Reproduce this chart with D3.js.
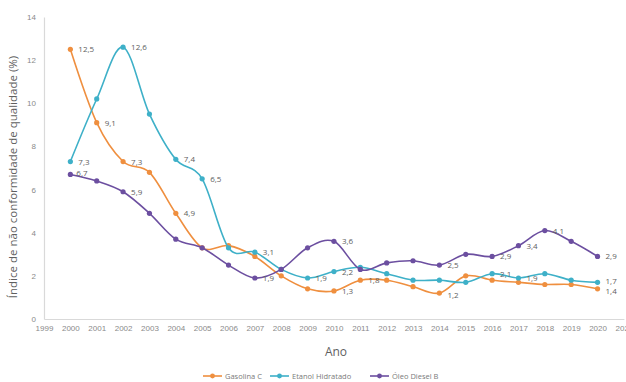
<!DOCTYPE html>
<html>
<head>
<meta charset="utf-8">
<script src="https://cdn.jsdelivr.net/npm/d3@7"></script>
<style>
  body { margin: 0; background: #fff; }
  svg { display: block; font-family: 'Open Sans', sans-serif; }
</style>
</head>
<body>
<div id="chart"></div>
<script>
const years = d3.range(2000, 2021);
const gasolina = [12.5, 9.1, 7.3, 6.8, 4.9, 3.3, 3.4, 2.9, 2.0, 1.4, 1.3, 1.8, 1.8, 1.5, 1.2, 2.0, 1.8, 1.7, 1.6, 1.6, 1.4];
const etanol = [7.3, 10.2, 12.6, 9.5, 7.4, 6.5, 3.3, 3.1, 2.3, 1.9, 2.2, 2.4, 2.1, 1.8, 1.8, 1.7, 2.1, 1.9, 2.1, 1.8, 1.7];
const diesel = [6.7, 6.4, 5.9, 4.9, 3.7, 3.3, 2.5, 1.9, 2.3, 3.3, 3.6, 2.3, 2.6, 2.7, 2.5, 3.0, 2.9, 3.4, 4.1, 3.6, 2.9];
const seriesNames = ['Gasolina C', 'Etanol Hidratado', 'Óleo Diesel B'];
// years that carry a data label
const gasolinaLabels = [2000, 2001, 2002, 2004, 2010, 2011, 2014, 2020];
const etanolLabels = [2000, 2002, 2004, 2005, 2007, 2009, 2010, 2016, 2017, 2020];
const dieselLabels = [2000, 2002, 2007, 2010, 2014, 2016, 2017, 2018, 2020];
const xTicks = d3.range(1999, 2022);
const yTicks = [0, 2, 4, 6, 8, 10, 12, 14];

const colors = ['#ef8f3f', '#3eb0c8', '#6c4fa0'];
const w = 626, h = 382;

const svg = d3.select('#chart')
  .append('svg')
  .attr('width', w)
  .attr('height', h);

const x = d3.scaleLinear().domain([1999, 2021]).range([44, 623.9]);
const y = d3.scaleLinear().domain([0, 14]).range([319, 17]);

// axes
const xAxis = d3.axisBottom(x).tickValues(xTicks).tickFormat(d3.format('d')).tickSize(0).tickPadding(6);
const yAxis = d3.axisLeft(y).tickValues(yTicks).tickSize(0).tickPadding(8);

const gx = svg.append('g').attr('transform', 'translate(0,319)').call(xAxis);
gx.select('.domain').attr('stroke', '#d9d9d9').attr('stroke-width', 1.2);
gx.selectAll('text').attr('fill', '#8a8a8a').style('font-size', '8px');

const gy = svg.append('g').attr('transform', 'translate(44,0)').call(yAxis);
gy.select('.domain').attr('stroke', '#d9d9d9').attr('stroke-width', 1.2);
gy.selectAll('text').attr('fill', '#8a8a8a').style('font-size', '8px');

svg.append('text')
  .attr('transform', 'translate(17,177) rotate(-90)')
  .attr('text-anchor', 'middle')
  .attr('fill', '#5f5f5f')
  .style('font-size', '11.5px')
  .text('Índice de não conformidade de qualidade (%)');

svg.append('text')
  .attr('x', 336)
  .attr('y', 356)
  .attr('text-anchor', 'middle')
  .attr('fill', '#5f5f5f')
  .style('font-size', '12px')
  .text('Ano');

const allSeries = [gasolina, etanol, diesel];
const allLabels = [gasolinaLabels, etanolLabels, dieselLabels];

// a few labels nudged off the default right-of-point spot
const nudge = {
  '2-2000': [6, -1], '0-2014': [8, 2],
  '0-2020': [8, 2], '1-2020': [8, -1]
};

const line = d3.line()
  .x(d => x(d[0]))
  .y(d => y(d[1]))
  .curve(d3.curveCardinal.tension(0));

allSeries.forEach((vals, i) => {
  const pts = years.map((yr, j) => [yr, vals[j]]);
  const g = svg.append('g');
  g.append('path')
    .datum(pts)
    .attr('d', line)
    .attr('fill', 'none')
    .attr('stroke', colors[i])
    .attr('stroke-width', 1.6);
  g.selectAll('circle')
    .data(pts)
    .enter()
    .append('circle')
    .attr('cx', d => x(d[0]))
    .attr('cy', d => y(d[1]))
    .attr('r', 2.6)
    .attr('fill', colors[i]);
  g.selectAll('text')
    .data(pts.filter(d => allLabels[i].includes(d[0])))
    .enter()
    .append('text')
    .attr('x', d => x(d[0]) + (nudge[i + '-' + d[0]] || [8, 0])[0])
    .attr('y', d => y(d[1]) + 3 + (nudge[i + '-' + d[0]] || [8, 0])[1])
    .attr('fill', '#606060')
    .style('font-size', '8px')
    .text(d => d[1].toFixed(1).replace('.', ','));
});

// legend
const legendX = [203, 270, 370];
const legend = svg.append('g');
seriesNames.forEach((name, i) => {
  const lg = legend.append('g').attr('transform', `translate(${legendX[i]},376)`);
  lg.append('line')
    .attr('x1', 0).attr('x2', 19)
    .attr('stroke', colors[i]).attr('stroke-width', 1.6);
  lg.append('circle').attr('cx', 9.5).attr('r', 2.4).attr('fill', colors[i]);
  lg.append('text')
    .attr('x', 22).attr('y', 2.7)
    .attr('fill', '#7a7a7a')
    .style('font-size', '7.5px')
    .text(name);
});
</script>
</body>
</html>
